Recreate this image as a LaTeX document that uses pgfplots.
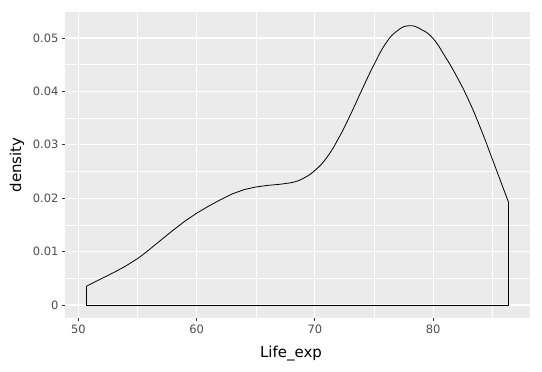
\documentclass[border=0pt]{standalone}
\usepackage{fontspec}
\setmainfont{DejaVu Sans}
\usepackage{pgfplots}
\pgfplotsset{compat=1.18}
\definecolor{panel}{HTML}{EBEBEB}
\definecolor{ticktxt}{HTML}{4D4D4D}
\definecolor{tickcol}{HTML}{333333}
\begin{document}
\begin{tikzpicture}[x=1pt,y=1pt]
\useasboundingbox[fill=white] (0,0) rectangle (542,372);
\begin{axis}[
  at={(65pt,54pt)}, anchor=south west,
  scale only axis, width=465pt, height=306pt,
  xmin=48.86, xmax=88.2, ymin=-0.00243, ymax=0.05487,
  axis background/.style={fill=panel},
  axis line style={draw=none},
  xtick={50,60,70,80}, xticklabels={50,60,70,80},
  ytick={0,0.01,0.02,0.03,0.04,0.05},
  yticklabels={0,0.01,0.02,0.03,0.04,0.05},
  minor xtick={55,65,75,85},
  minor ytick={0.005,0.015,0.025,0.035,0.045},
  grid=both,
  major grid style={white, line width=1.1pt},
  minor grid style={white, line width=0.55pt},
  tick align=outside, major tick length=3pt, minor tick length=0pt,
  tick style={tickcol, line width=0.8pt},
  xtick pos=bottom, ytick pos=left,
  ticklabel style={font=\fontsize{11.5}{12}\selectfont, text=ticktxt},
  scaled y ticks=false,
  xlabel={Life\_exp}, ylabel={density},
  label style={font=\fontsize{15}{16}\selectfont, text=black},
  xlabel style={at={(axis description cs:0.486,-0.1176)}, anchor=center},
  ylabel style={at={(axis description cs:-0.1032,0.5)}, anchor=center},
  clip=false,
]
\addplot[black, line width=0.8pt, smooth, tension=0.8] coordinates {
(50.7,0.00355) (51,0.0039) (52,0.0050) (53,0.0061) (54,0.0073) (55,0.0087)
(56,0.0104) (57,0.0122) (58,0.0140) (59,0.0157) (60,0.0172) (61,0.0185)
(62,0.0197) (63,0.0208) (64,0.0216) (65,0.0221) (66,0.0224) (67,0.0226)
(68,0.0229) (69,0.0237) (70,0.0252) (71,0.0276) (72,0.0312) (73,0.0356)
(74,0.0404) (75,0.0450) (76,0.0490) (77,0.0514) (78,0.0523) (79,0.0516)
(80,0.0499) (81,0.0466) (82,0.0428) (83,0.0384) (84,0.0332) (85,0.0274)
(86,0.0215) (86.41,0.0191)
};
\addplot[black, line width=0.8pt] coordinates {
(50.7,0.00355) (50.7,0) (86.41,0) (86.41,0.0191)
};
\end{axis}
\end{tikzpicture}
\end{document}
